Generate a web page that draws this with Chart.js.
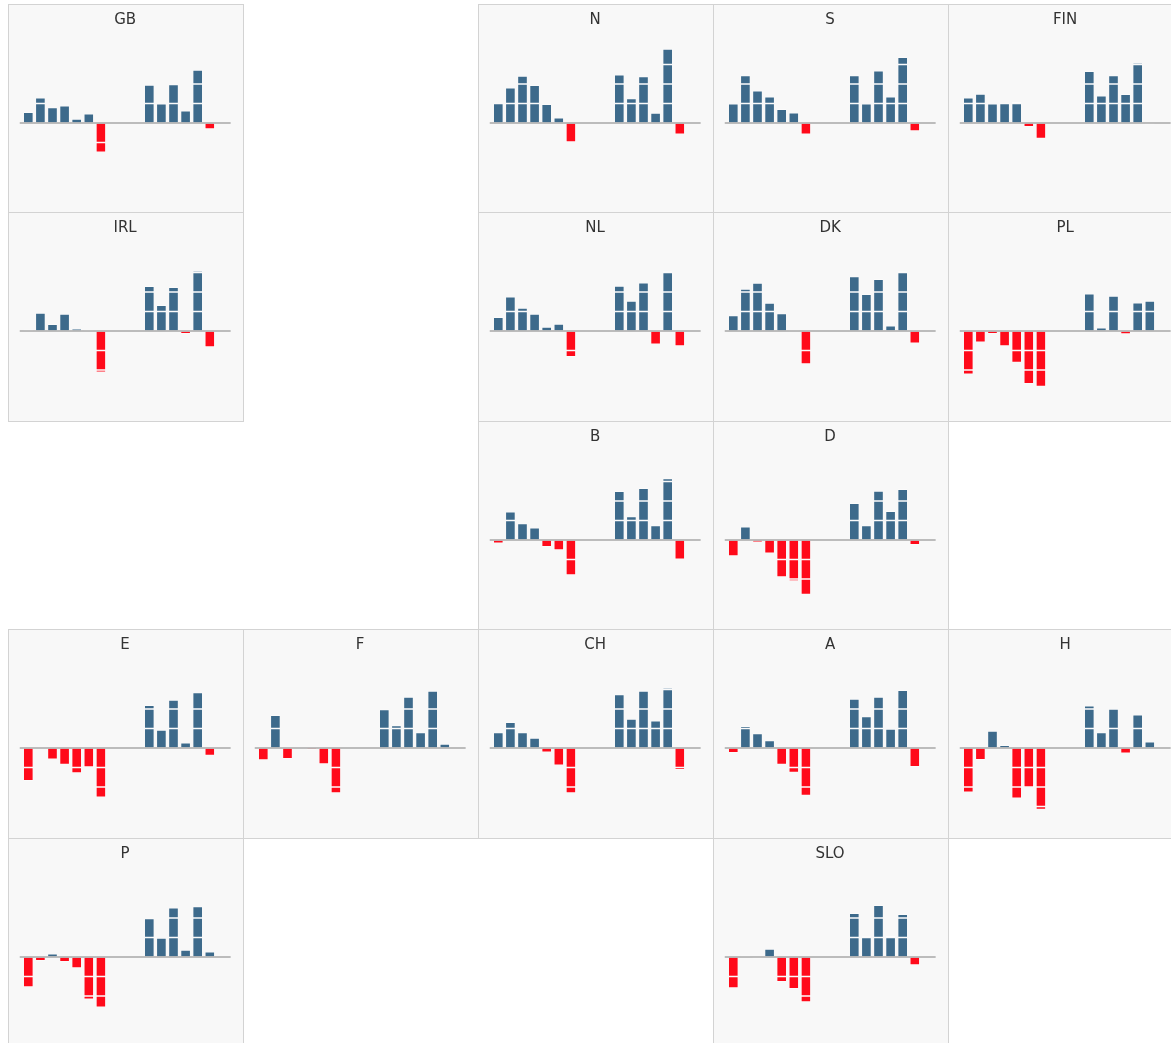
<!DOCTYPE html>
<html><head><meta charset="utf-8">
<script src="https://cdn.jsdelivr.net/npm/chart.js@4"></script>
<style>
html,body{margin:0;padding:0;background:#fff;overflow:hidden;width:1171px;height:1043px}
.panel{position:absolute;box-sizing:border-box;width:236px;height:210px;border:1px solid #d3d3d3;background:#f8f8f8}
.panel canvas{position:absolute;left:0;top:0}
</style></head><body>
<script>
// ---- data ----
const categories = ['1','2','3','4','5','6','7','8','9','10','11','12','13','14','15','16',''];
const countries = ['GB','N','S','FIN','IRL','NL','DK','PL','B','D','E','F','CH','A','H','P','SLO'];
const n = null;
const GB  = [0.55, 1.30, 0.79, 0.89, 0.21, 0.48, -1.50, n, n, n, 1.95, 0.99, 1.98, 0.63, 2.72, -0.31];
const N   = [1.01, 1.81, 2.41, 1.93, 0.96, 0.27, -0.97, n, n, n, 2.48, 1.26, 2.39, 0.51, 3.79, -0.58];
const S   = [0.99, 2.44, 1.66, 1.35, 0.70, 0.53, -0.58, n, n, n, 2.43, 0.99, 2.68, 1.35, 3.37, -0.41];
const FIN = [1.30, 1.49, 0.99, 1.04, 1.08, -0.19, -0.80, n, n, n, 2.65, 1.40, 2.43, 1.47, 3.09, -0.08];
const IRL = [0.08, 0.92, 0.34, 0.87, 0.12, 0.05, -2.12, n, n, n, 2.29, 1.32, 2.24, -0.14, 3.09, -0.82];
const NL  = [0.70, 1.76, 1.18, 0.87, 0.21, 0.36, -1.32, n, n, n, 2.31, 1.54, 2.48, -0.68, 3.06, -0.77];
const DK  = [0.79, 2.15, 2.46, 1.44, 0.90, 0.03, -1.69, n, n, n, 2.80, 1.88, 2.65, 0.27, 3.06, -0.63];
const PL  = [-2.22, -0.58, -0.14, -0.77, -1.61, -2.70, -2.84, n, n, n, 1.91, 0.17, 1.79, -0.15, 1.45, 1.54];
const B   = [-0.17, 1.45, 0.84, 0.63, -0.34, -0.51, -1.79, n, n, n, 2.50, 1.20, 2.65, 0.74, 3.16, -0.99];
const D   = [-0.82, 0.68, -0.12, -0.68, -1.90, -2.10, -2.80, n, n, n, 1.88, 0.74, 2.51, 1.47, 2.60, -0.24];
const E   = [-1.68, 0, -0.58, -0.84, -1.28, -0.97, -2.53, n, n, n, 2.19, 0.92, 2.46, 0.27, 2.84, -0.39];
const F   = [-0.62, 1.68, -0.55, 0, -0.09, -0.82, -2.31, n, n, n, 1.98, 1.16, 2.62, 0.80, 2.92, 0.21];
const CH  = [0.80, 1.32, 0.80, 0.51, -0.22, -0.89, -2.31, n, n, n, 2.74, 1.49, 2.92, 1.40, 3.09, -1.11];
const A   = [-0.24, 1.11, 0.75, 0.38, -0.84, -1.26, -2.44, n, n, n, 2.51, 1.62, 2.62, 0.97, 2.96, -0.96];
const H   = [-2.27, -0.60, 0.87, 0.14, -2.58, -2.00, -3.16, n, n, n, 2.17, 0.80, 2.00, -0.27, 1.71, 0.32];
const P   = [-1.54, -0.19, 0.17, -0.24, -0.56, -2.17, -2.58, n, n, n, 1.97, 0.97, 2.53, 0.36, 2.59, 0.27];
const SLO = [-1.59, 0.08, -0.08, 0.41, -1.27, -1.63, -2.31, n, n, n, 2.25, 1.07, 2.66, 1.08, 2.19, -0.41];
const seriesByCountry = {GB, N, S, FIN, IRL, NL, DK, PL, B, D, E, F, CH, A, H, P, SLO};

// ---- layout (grid column, row) ----
const gridPos = {GB:[0,0], N:[2,0], S:[3,0], FIN:[4,0],
  IRL:[0,1], NL:[2,1], DK:[3,1], PL:[4,1],
  B:[2,2], D:[3,2],
  E:[0,3], F:[1,3], CH:[2,3], A:[3,3], H:[4,3],
  P:[0,4], SLO:[3,4]};

const BLUE = '#3d6a8b', RED = '#ff0a1a';

const zeroLine = {
  id: 'zeroLine',
  afterDatasetsDraw(chart) {
    const y = chart.scales.y.getPixelForValue(0);
    const a = chart.chartArea, ctx = chart.ctx;
    ctx.save();
    ctx.strokeStyle = '#a8a8a8';
    ctx.lineWidth = 1.5;
    ctx.beginPath();
    ctx.moveTo(a.left - 2.5, y);
    ctx.lineTo(a.right + 2.7, y);
    ctx.stroke();
    ctx.restore();
  }
};

function segmentData(vals, k) {
  return vals.map(v => {
    if (v === null || v === 0) return null;
    const rest = Math.abs(v) - k;
    if (rest <= 0) return null;
    return Math.sign(v) * Math.min(1, rest);
  });
}

countries.forEach(name => {
  const [c, r] = gridPos[name];
  const div = document.createElement('div');
  div.className = 'panel';
  div.style.left = (8 + c * 235) + 'px';
  div.style.top = Math.round(4 + r * 208.5 - 0.3) + 'px';
  const cv = document.createElement('canvas');
  cv.width = 234; cv.height = 208;
  cv.style.width = '234px'; cv.style.height = '208px';
  div.appendChild(cv);
  document.body.appendChild(div);
  const vals = seriesByCountry[name];
  const datasets = [0, 1, 2, 3].map(k => ({
    data: segmentData(vals, k),
    backgroundColor: ctx => (ctx.raw > 0 ? BLUE : RED),
    borderColor: 'rgba(255,255,255,0.8)',
    borderWidth: { top: 0.75, bottom: 0.75, left: 0.4, right: 0.4 },
    borderSkipped: false,
    categoryPercentage: 1,
    barPercentage: 0.78
  }));
  new Chart(cv, {
    type: 'bar',
    data: { labels: categories, datasets },
    plugins: [zeroLine],
    options: {
      responsive: false,
      animation: false,
      devicePixelRatio: 1,
      layout: { padding: { left: 13.25, right: 15.05, top: 0, bottom: 12 } },
      plugins: {
        legend: { display: false },
        tooltip: { enabled: false },
        title: {
          display: true, text: name, color: '#333',
          font: { family: 'DejaVu Sans', size: 15, weight: 'normal' },
          padding: { top: 6, bottom: 16 }
        }
      },
      scales: {
        x: { display: false, stacked: true },
        y: { display: false, stacked: true, min: -4, max: 4 }
      }
    }
  });
});
</script>
</body></html>
